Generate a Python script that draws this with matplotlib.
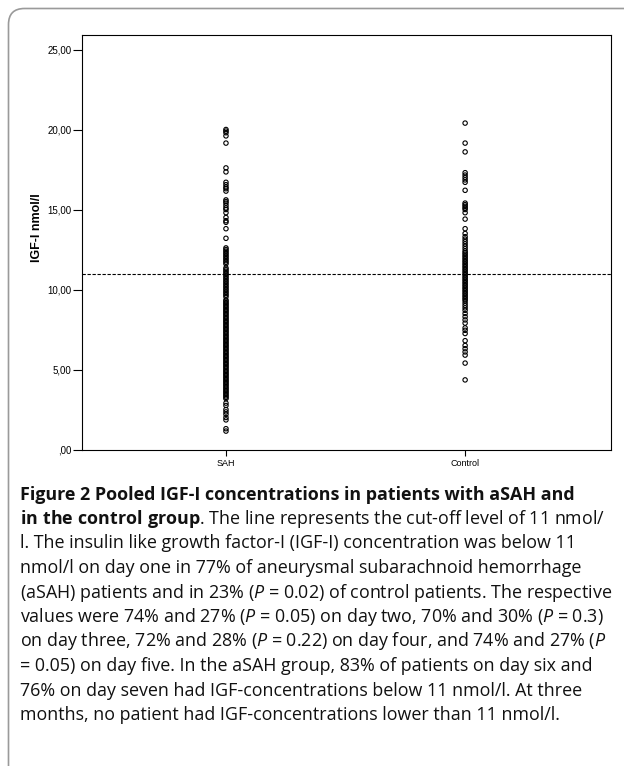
import matplotlib
matplotlib.use('Agg')
import matplotlib.pyplot as plt
from matplotlib.patches import FancyBboxPatch
from matplotlib.transforms import IdentityTransform

plt.rcParams['lines.scale_dashes'] = False
plt.rcParams['mathtext.fontset'] = 'custom'
plt.rcParams['mathtext.rm'] = 'Open Sans'
plt.rcParams['mathtext.it'] = 'Open Sans:italic'
plt.rcParams['mathtext.bf'] = 'Open Sans:bold'

# ---------------- data ----------------
categories = ['SAH', 'Control']
cutoff = 11
yticks = [0, 5, 10, 15, 20, 25]
ytick_labels = [',00', '5,00', '10,00', '15,00', '20,00', '25,00']

sah_values = [
    20.0, 19.9, 19.8, 19.6, 19.15, 17.6, 17.35, 16.7, 16.55, 16.4, 16.3, 16.15,
    15.6, 15.5, 15.4, 15.25, 15.1, 15.0, 14.8, 14.5, 14.3, 14.2, 13.8, 13.2,
    12.6, 12.5, 12.4, 12.3, 12.2, 12.1, 12.0, 11.9, 11.8, 11.7, 11.6,
    11.35, 11.25, 11.15, 11.05, 10.95, 10.85, 10.75, 10.65, 10.55, 10.45, 10.35,
    10.25, 10.15, 10.05, 9.95, 9.85, 9.75, 9.65, 9.55,
    9.35, 9.27, 9.18, 9.1, 9.02, 8.93, 8.85, 8.76, 8.68, 8.6, 8.51, 8.43, 8.34,
    8.25, 8.17, 8.08, 8.0, 7.92, 7.83, 7.75, 7.66, 7.58, 7.5, 7.41, 7.33, 7.24,
    7.15, 7.07, 6.98, 6.9, 6.82, 6.73, 6.65, 6.56, 6.48, 6.4, 6.31, 6.23, 6.14,
    6.05, 5.97, 5.88, 5.8, 5.72, 5.63, 5.55, 5.46, 5.38, 5.3, 5.21, 5.13, 5.04,
    4.95, 4.87, 4.78, 4.7, 4.62, 4.53, 4.45, 4.36, 4.28, 4.2, 4.11, 4.03, 3.94,
    3.85, 3.77, 3.68, 3.6, 3.52, 3.43, 3.35, 3.26, 3.18,
    2.9, 2.75, 2.5, 2.35, 2.2, 2.0, 1.85, 1.3, 1.15,
]

control_values = [
    20.4, 19.15, 18.6, 17.3, 17.15, 17.0, 16.85, 16.7, 16.2, 15.4, 15.3, 15.2,
    15.1, 15.0, 14.8, 14.4, 13.8, 13.5, 13.3, 13.15, 13.0, 12.85, 12.7, 12.55,
    12.4, 12.3, 12.2, 12.1, 12.0, 11.9, 11.8, 11.7, 11.6, 11.5, 11.4, 11.3,
    11.2, 11.1, 11.0, 10.9, 10.8, 10.7, 10.6, 10.5, 10.4, 10.3, 10.2, 10.1,
    10.0, 9.9, 9.8, 9.7, 9.6, 9.5, 9.4, 9.3, 9.15, 9.0, 8.85, 8.7, 8.5, 8.3,
    8.1, 7.9, 7.6, 7.45, 7.25, 6.8, 6.5, 6.3, 6.1, 5.9, 5.4, 4.35,
]

caption_lines = [
    "Figure 2 Pooled IGF-I concentrations in patients with aSAH and",
    r"$\mathbf{in\ the\ control\ group}$. The line represents the cut-off level of 11 nmol/",
    "l. The insulin like growth factor-I (IGF-I) concentration was below 11",
    "nmol/l on day one in 77% of aneurysmal subarachnoid hemorrhage",
    r"(aSAH) patients and in 23% ($\mathit{P}$ = 0.02) of control patients. The respective",
    r"values were 74% and 27% ($\mathit{P}$ = 0.05) on day two, 70% and 30% ($\mathit{P}$ = 0.3)",
    r"on day three, 72% and 28% ($\mathit{P}$ = 0.22) on day four, and 74% and 27% ($\mathit{P}$",
    "= 0.05) on day five. In the aSAH group, 83% of patients on day six and",
    "76% on day seven had IGF-concentrations below 11 nmol/l. At three",
    "months, no patient had IGF-concentrations lower than 11 nmol/l.",
]

# ---------------- figure ----------------
W, H = 624, 766
fig = plt.figure(figsize=(W / 100, H / 100), dpi=100)
fig.patch.set_facecolor('white')

# outer rounded frame
frame = FancyBboxPatch((8.5, -30), 700, H - 8.5 + 30,
                       boxstyle='round,pad=0,rounding_size=16',
                       ec='#9a9a9a', fc='none', lw=1.2,
                       transform=IdentityTransform())
fig.add_artist(frame)

ax_left, ax_right, ax_top, ax_bottom = 82, 611, 35, 449.5
ax = fig.add_axes([ax_left / W, 1 - ax_bottom / H,
                   (ax_right - ax_left) / W, (ax_bottom - ax_top) / H])

xs_sah = [0] * len(sah_values)
xs_ctl = [1] * len(control_values)
ax.scatter(xs_sah, sah_values, s=10, facecolors='none', edgecolors='black',
           linewidths=0.8, zorder=3)
ax.scatter(xs_ctl, control_values, s=10, facecolors='none', edgecolors='black',
           linewidths=0.8, zorder=3)
ax.axhline(cutoff, color='black', lw=0.8, ls=(0, (2.4, 1.2)), zorder=2)

ax.set_xlim(-0.602, 1.61)
ax.set_ylim(0, (ax_bottom - ax_top) / 16.0)
ax.set_xticks([0, 1])
ax.set_xticklabels(categories, fontsize=6.5, family='Liberation Sans')
ax.set_yticks(yticks)
ax.set_yticklabels(ytick_labels, fontsize=7, family='Liberation Sans')
ax.tick_params(axis='y', direction='out', length=6.5, width=0.8, pad=1)
ax.tick_params(axis='x', direction='out', length=4, width=0.8, pad=3)
for sp in ax.spines.values():
    sp.set_linewidth(0.8)
    sp.set_color('black')
ax.set_ylabel('IGF-I nmol/l', fontsize=9, fontweight='bold',
              family='Liberation Sans')
# label centre near pixel (37, 228)
ax.yaxis.set_label_coords((43 - ax_left) / (ax_right - ax_left),
                          (ax_bottom - 228) / (ax_bottom - ax_top))

# ---------------- caption ----------------
renderer = fig.canvas.get_renderer()
probe = fig.text(0, 0, caption_lines[4], fontsize=11, family='Open Sans',
                 transform=IdentityTransform())
pw = probe.get_window_extent(renderer).width
probe.remove()
cap_size = 11 * (611 - 20) / pw

x0 = 20
base0 = 499.5
step = 24.5
for i, line in enumerate(caption_lines):
    y = H - (base0 + i * step)
    fig.text(x0, y, line, fontsize=cap_size, family='Open Sans',
             fontweight='bold' if i == 0 else 'normal',
             color='#111111', va='baseline', ha='left',
             transform=IdentityTransform())

fig.savefig('out.png', dpi=100)
